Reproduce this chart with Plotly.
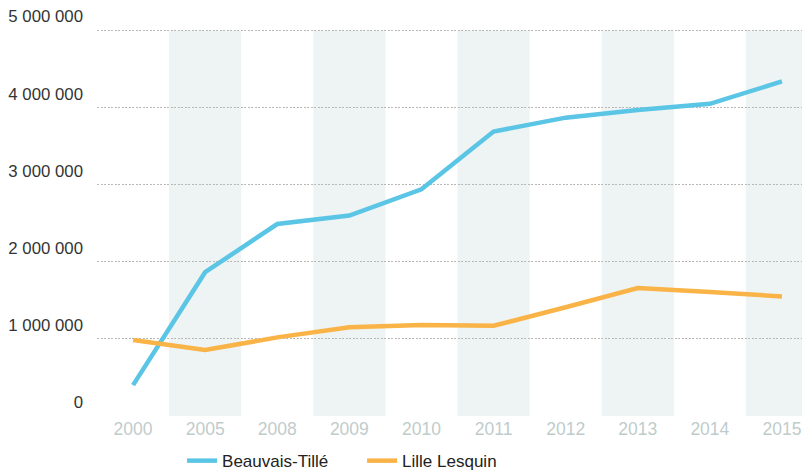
import plotly.graph_objects as go

years = ["2000", "2005", "2008", "2009", "2010", "2011", "2012", "2013", "2014", "2015"]
beauvais = [400000, 1865000, 2490000, 2600000, 2940000, 3690000, 3870000, 3970000, 4050000, 4340000]
lille = [985000, 855000, 1020000, 1150000, 1180000, 1170000, 1410000, 1660000, 1610000, 1550000]
y_ticks = [0, 1000000, 2000000, 3000000, 4000000, 5000000]
y_labels = ["0", "1 000 000", "2 000 000", "3 000 000", "4 000 000", "5 000 000"]

idx = list(range(len(years)))

fig = go.Figure()
fig.add_trace(go.Scatter(x=idx, y=beauvais, mode="lines", name="Beauvais-Tillé",
                         line=dict(color="#5bc5e6", width=4.5)))
fig.add_trace(go.Scatter(x=idx, y=lille, mode="lines", name="Lille Lesquin",
                         line=dict(color="#f9b347", width=4.5)))

for i in idx:
    if i % 2 == 1:
        fig.add_shape(type="rect", xref="x", yref="y", x0=i - 0.5, x1=i + 0.5,
                      y0=0, y1=y_ticks[-1], fillcolor="#eef3f3", line=dict(width=0),
                      layer="below")

fig.update_layout(
    width=810, height=470,
    margin=dict(l=89, r=0, t=20.5, b=62, autoexpand=False),
    paper_bgcolor="white", plot_bgcolor="white",
    font=dict(family="Liberation Sans, Arial, sans-serif", size=16, color="#333333"),
    showlegend=True,
    legend=dict(orientation="h", x=0.118, xanchor="left", y=-0.07, yanchor="top",
                font=dict(size=17, color="#222222"), itemwidth=30,
                entrywidth=135, entrywidthmode="pixels",
                tracegroupgap=0),
    xaxis=dict(range=[-0.5, 9.5], tickmode="array", tickvals=idx, ticktext=years,
               showgrid=False, zeroline=False, showline=False, automargin=False,
               tickfont=dict(size=17.5, color="#bfcccc"), ticks=""),
    yaxis=dict(range=[0, 5020000], tickmode="array", tickvals=y_ticks, ticktext=y_labels,
               showgrid=True, gridcolor="#b8b8b8", griddash="2px,1.5px", gridwidth=1,
               zeroline=False, showline=False, ticks="", automargin=False,
               tickfont=dict(size=16.8, color="#333333"),
               ticklabelshift=-14, ticklabelstandoff=13, ticklabeloverflow="allow"),
)

fig.write_html("out.html")
